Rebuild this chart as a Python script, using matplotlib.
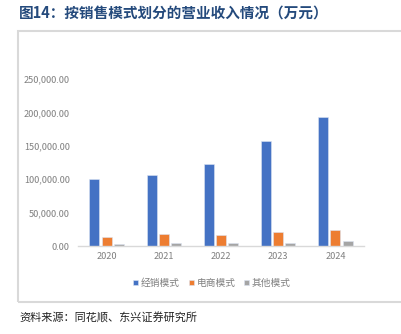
import numpy as np
import matplotlib
matplotlib.use("Agg")
from matplotlib import pyplot as plt
from matplotlib.patches import Rectangle

plt.rcParams['font.family'] = ['Noto Sans CJK SC', 'DejaVu Sans']

years = ['2020', '2021', '2022', '2023', '2024']
dealer = [100000, 107000, 123000, 157000, 192500]
ecommerce = [13500, 17500, 16500, 21500, 24000]
other = [3000, 4000, 4500, 4500, 8000]

series_names = ['经销模式', '电商模式', '其他模式']
colors = ['#4472C4', '#ED7D31', '#A5A5A5']
yticks = [0, 50000, 100000, 150000, 200000, 250000]

fig = plt.figure(figsize=(4.01, 3.34), dpi=100)

# outer frame of the chart box
fig.patches.append(Rectangle((18 / 401, 1 - 302 / 334), 1.0, (302 - 31) / 334,
                             transform=fig.transFigure, fill=False,
                             edgecolor='#D9D9D9', linewidth=1.5))

ax = fig.add_axes([78 / 401, 1 - 246 / 334, (364 - 78) / 401, (246 - 79) / 334])

x = np.arange(len(years))
width = 0.175
offset = 0.213
for i, (vals, name, c) in enumerate(zip([dealer, ecommerce, other], series_names, colors)):
    ax.bar(x + (i - 1) * offset, vals, width, color=c, label=name,
           edgecolor='#DCE4F2', linewidth=0.4)

ax.set_xlim(-0.5, len(years) - 0.5)
ax.set_ylim(0, 250000)
ax.set_yticks(yticks)
ax.set_yticklabels([f'{v:,.2f}' for v in yticks])
ax.set_xticks(x)
ax.set_xticklabels(years)
ax.tick_params(axis='both', length=0, labelsize=6.6, labelcolor='#808080')
ax.tick_params(axis='y', pad=6)
ax.tick_params(axis='x', pad=4)
for s in ['top', 'right', 'left']:
    ax.spines[s].set_visible(False)
ax.spines['bottom'].set_color('#D9D9D9')
ax.spines['bottom'].set_linewidth(1.0)

leg = fig.legend(loc='center', bbox_to_anchor=(212 / 401, 1 - 283 / 334), ncol=3,
                 frameon=False, fontsize=7, handlelength=0.55, handleheight=0.55,
                 handletextpad=0.25, columnspacing=0.9, labelcolor='#808080')

fig.text(19 / 401, 1 - 14 / 334, '图14：按销售模式划分的营业收入情况（万元）',
         fontsize=10.5, fontweight='bold', color='#244A7C', va='center', ha='left')
fig.text(19 / 401, 1 - 318 / 334, '资料来源：同花顺、东兴证券研究所',
         fontsize=8, style='italic', color='#222222', va='center', ha='left')

fig.savefig('out.png', dpi=100)
